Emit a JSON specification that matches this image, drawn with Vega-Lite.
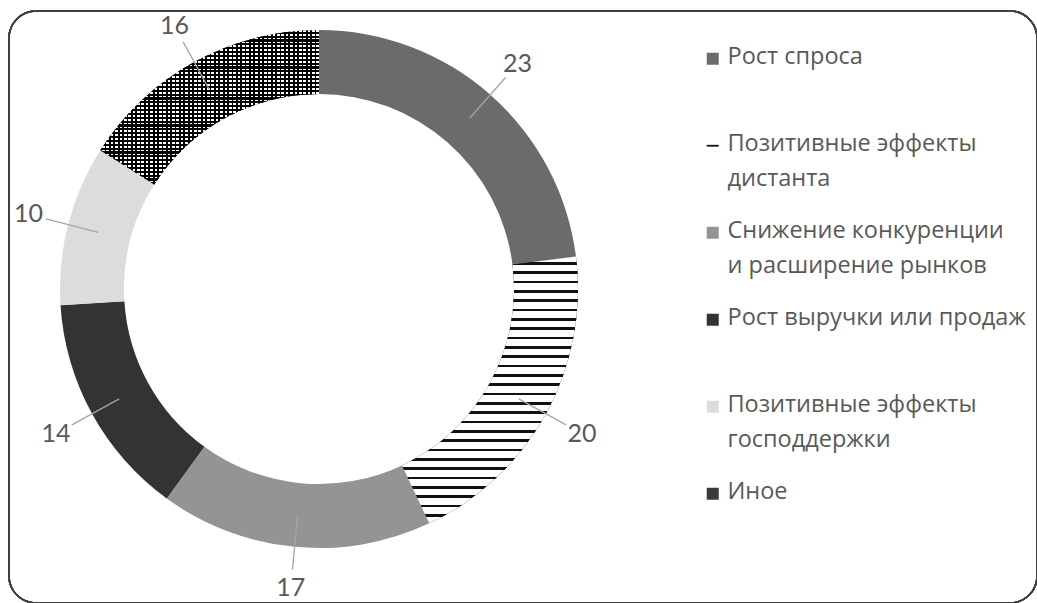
{
  "$schema": "https://vega.github.io/schema/vega-lite/v6.json",
  "autosize": {"type": "none"},
  "width": 1028,
  "height": 592,
  "padding": {"left": 9, "top": 11, "right": 0, "bottom": 0},
  "background": "#ffffff",
  "config": {
    "view": {"stroke": null},
    "font": "Lato",
    "legend": {
      "orient": "none",
      "legendX": 692,
      "legendY": 36,
      "padding": 0,
      "symbolType": "square",
      "symbolSize": 144,
      "symbolStrokeWidth": 0,
      "labelFont": "Open Sans",
      "labelFontSize": 23.5,
      "labelColor": "#595959",
      "labelLimit": 400,
      "labelOffset": 3,
      "labelBaseline": "top",
      "rowPadding": 27,
      "gridAlign": "all"
    }
  },
  "data": {
    "values": [
      {"idx": 1, "cat": "Рост спроса", "value": 23},
      {"idx": 2, "cat": "Позитивные эффекты дистанта", "value": 20},
      {"idx": 3, "cat": "Снижение конкуренции и расширение рынков", "value": 17},
      {"idx": 4, "cat": "Рост выручки или продаж", "value": 14},
      {"idx": 5, "cat": "Позитивные эффекты господдержки", "value": 10},
      {"idx": 6, "cat": "Иное", "value": 16}
    ]
  },
  "encoding": {
    "theta": {"field": "value", "type": "quantitative", "stack": true},
    "order": {"field": "idx", "type": "quantitative"}
  },
  "layer": [
    {
      "mark": {"type": "rect", "fill": "transparent", "stroke": "#404040", "strokeWidth": 1.5, "cornerRadius": 27},
      "encoding": {}
    },
    {
      "mark": {"type": "arc", "radius": 259, "radius2": 195, "x": 310, "y": 278},
      "encoding": {
        "color": {
          "field": "cat",
          "type": "nominal",
          "scale": {
            "domain": ["Рост спроса", "Позитивные эффекты дистанта", "Снижение конкуренции и расширение рынков", "Рост выручки или продаж", "Позитивные эффекты господдержки", "Иное"],
            "range": ["#6b6b6b", "#111111", "#949494", "#333333", "#dcdcdc", "#3a3a3a"]
          },
          "legend": {
            "title": null,
            "labelExpr": "datum.label === 'Позитивные эффекты дистанта' ? ['Позитивные эффекты', 'дистанта'] : datum.label === 'Снижение конкуренции и расширение рынков' ? ['Снижение конкуренции', ' и расширение рынков'] : datum.label === 'Позитивные эффекты господдержки' ? ['Позитивные эффекты', 'господдержки'] : datum.label",
            "encode": {
              "labels": {"update": {"lineHeight": {"value": 35.5}, "dy": {"value": -14}}},
              "symbols": {"update": {"shape": {"signal": "datum.value === 'Позитивные эффекты дистанта' ? 'M-1,-0.15H1V0.15H-1Z' : 'square'"}}}
            }
          }
        }
      }
    },
    {
      "mark": {
        "type": "arc", "radius": 259, "radius2": 195, "x": 310, "y": 278,
        "fill": {
          "gradient": "linear", "x1": 0, "y1": 0, "x2": 0, "y2": 1,
          "stops": [
            {"offset": 0, "color": "#ffffff"},
            {"offset": 0.02, "color": "#ffffff"}, {"offset": 0.02, "color": "#111111"}, {"offset": 0.03, "color": "#111111"}, {"offset": 0.03, "color": "#ffffff"},
            {"offset": 0.055, "color": "#ffffff"}, {"offset": 0.055, "color": "#111111"}, {"offset": 0.065, "color": "#111111"}, {"offset": 0.065, "color": "#ffffff"},
            {"offset": 0.09, "color": "#ffffff"}, {"offset": 0.09, "color": "#111111"}, {"offset": 0.1, "color": "#111111"}, {"offset": 0.1, "color": "#ffffff"},
            {"offset": 0.125, "color": "#ffffff"}, {"offset": 0.125, "color": "#111111"}, {"offset": 0.135, "color": "#111111"}, {"offset": 0.135, "color": "#ffffff"},
            {"offset": 0.16, "color": "#ffffff"}, {"offset": 0.16, "color": "#111111"}, {"offset": 0.17, "color": "#111111"}, {"offset": 0.17, "color": "#ffffff"},
            {"offset": 0.195, "color": "#ffffff"}, {"offset": 0.195, "color": "#111111"}, {"offset": 0.205, "color": "#111111"}, {"offset": 0.205, "color": "#ffffff"},
            {"offset": 0.23, "color": "#ffffff"}, {"offset": 0.23, "color": "#111111"}, {"offset": 0.24, "color": "#111111"}, {"offset": 0.24, "color": "#ffffff"},
            {"offset": 0.265, "color": "#ffffff"}, {"offset": 0.265, "color": "#111111"}, {"offset": 0.275, "color": "#111111"}, {"offset": 0.275, "color": "#ffffff"},
            {"offset": 0.3, "color": "#ffffff"}, {"offset": 0.3, "color": "#111111"}, {"offset": 0.31, "color": "#111111"}, {"offset": 0.31, "color": "#ffffff"},
            {"offset": 0.335, "color": "#ffffff"}, {"offset": 0.335, "color": "#111111"}, {"offset": 0.345, "color": "#111111"}, {"offset": 0.345, "color": "#ffffff"},
            {"offset": 0.37, "color": "#ffffff"}, {"offset": 0.37, "color": "#111111"}, {"offset": 0.38, "color": "#111111"}, {"offset": 0.38, "color": "#ffffff"},
            {"offset": 0.405, "color": "#ffffff"}, {"offset": 0.405, "color": "#111111"}, {"offset": 0.415, "color": "#111111"}, {"offset": 0.415, "color": "#ffffff"},
            {"offset": 0.44, "color": "#ffffff"}, {"offset": 0.44, "color": "#111111"}, {"offset": 0.45, "color": "#111111"}, {"offset": 0.45, "color": "#ffffff"},
            {"offset": 0.475, "color": "#ffffff"}, {"offset": 0.475, "color": "#111111"}, {"offset": 0.485, "color": "#111111"}, {"offset": 0.485, "color": "#ffffff"},
            {"offset": 0.51, "color": "#ffffff"}, {"offset": 0.51, "color": "#111111"}, {"offset": 0.52, "color": "#111111"}, {"offset": 0.52, "color": "#ffffff"},
            {"offset": 0.545, "color": "#ffffff"}, {"offset": 0.545, "color": "#111111"}, {"offset": 0.555, "color": "#111111"}, {"offset": 0.555, "color": "#ffffff"},
            {"offset": 0.58, "color": "#ffffff"}, {"offset": 0.58, "color": "#111111"}, {"offset": 0.59, "color": "#111111"}, {"offset": 0.59, "color": "#ffffff"},
            {"offset": 0.615, "color": "#ffffff"}, {"offset": 0.615, "color": "#111111"}, {"offset": 0.625, "color": "#111111"}, {"offset": 0.625, "color": "#ffffff"},
            {"offset": 0.65, "color": "#ffffff"}, {"offset": 0.65, "color": "#111111"}, {"offset": 0.66, "color": "#111111"}, {"offset": 0.66, "color": "#ffffff"},
            {"offset": 0.685, "color": "#ffffff"}, {"offset": 0.685, "color": "#111111"}, {"offset": 0.695, "color": "#111111"}, {"offset": 0.695, "color": "#ffffff"},
            {"offset": 0.72, "color": "#ffffff"}, {"offset": 0.72, "color": "#111111"}, {"offset": 0.73, "color": "#111111"}, {"offset": 0.73, "color": "#ffffff"},
            {"offset": 0.755, "color": "#ffffff"}, {"offset": 0.755, "color": "#111111"}, {"offset": 0.765, "color": "#111111"}, {"offset": 0.765, "color": "#ffffff"},
            {"offset": 0.79, "color": "#ffffff"}, {"offset": 0.79, "color": "#111111"}, {"offset": 0.8, "color": "#111111"}, {"offset": 0.8, "color": "#ffffff"},
            {"offset": 0.825, "color": "#ffffff"}, {"offset": 0.825, "color": "#111111"}, {"offset": 0.835, "color": "#111111"}, {"offset": 0.835, "color": "#ffffff"},
            {"offset": 0.86, "color": "#ffffff"}, {"offset": 0.86, "color": "#111111"}, {"offset": 0.87, "color": "#111111"}, {"offset": 0.87, "color": "#ffffff"},
            {"offset": 0.895, "color": "#ffffff"}, {"offset": 0.895, "color": "#111111"}, {"offset": 0.905, "color": "#111111"}, {"offset": 0.905, "color": "#ffffff"},
            {"offset": 0.93, "color": "#ffffff"}, {"offset": 0.93, "color": "#111111"}, {"offset": 0.94, "color": "#111111"}, {"offset": 0.94, "color": "#ffffff"},
            {"offset": 0.965, "color": "#ffffff"}, {"offset": 0.965, "color": "#111111"}, {"offset": 0.975, "color": "#111111"}, {"offset": 0.975, "color": "#ffffff"},
            {"offset": 1, "color": "#ffffff"}
          ]
        }
      },
      "encoding": {
        "opacity": {"condition": {"test": "datum.cat === 'Позитивные эффекты дистанта'", "value": 1}, "value": 0}
      }
    },
    {
      "mark": {
        "type": "arc", "radius": 259, "radius2": 195, "x": 310, "y": 278,
        "fill": {
          "gradient": "linear", "x1": 0, "y1": 0, "x2": 0, "y2": 1,
          "stops": [
            {"offset": 0, "color": "#ffffff"}, {"offset": 0.011, "color": "#ffffff"}, {"offset": 0.011, "color": "#000000"}, {"offset": 0.025, "color": "#000000"},
            {"offset": 0.025, "color": "#ffffff"}, {"offset": 0.036, "color": "#ffffff"}, {"offset": 0.036, "color": "#000000"}, {"offset": 0.05, "color": "#000000"},
            {"offset": 0.05, "color": "#ffffff"}, {"offset": 0.061, "color": "#ffffff"}, {"offset": 0.061, "color": "#000000"}, {"offset": 0.075, "color": "#000000"},
            {"offset": 0.075, "color": "#ffffff"}, {"offset": 0.086, "color": "#ffffff"}, {"offset": 0.086, "color": "#000000"}, {"offset": 0.1, "color": "#000000"},
            {"offset": 0.1, "color": "#ffffff"}, {"offset": 0.111, "color": "#ffffff"}, {"offset": 0.111, "color": "#000000"}, {"offset": 0.125, "color": "#000000"},
            {"offset": 0.125, "color": "#ffffff"}, {"offset": 0.136, "color": "#ffffff"}, {"offset": 0.136, "color": "#000000"}, {"offset": 0.15, "color": "#000000"},
            {"offset": 0.15, "color": "#ffffff"}, {"offset": 0.161, "color": "#ffffff"}, {"offset": 0.161, "color": "#000000"}, {"offset": 0.175, "color": "#000000"},
            {"offset": 0.175, "color": "#ffffff"}, {"offset": 0.186, "color": "#ffffff"}, {"offset": 0.186, "color": "#000000"}, {"offset": 0.2, "color": "#000000"},
            {"offset": 0.2, "color": "#ffffff"}, {"offset": 0.211, "color": "#ffffff"}, {"offset": 0.211, "color": "#000000"}, {"offset": 0.225, "color": "#000000"},
            {"offset": 0.225, "color": "#ffffff"}, {"offset": 0.236, "color": "#ffffff"}, {"offset": 0.236, "color": "#000000"}, {"offset": 0.25, "color": "#000000"},
            {"offset": 0.25, "color": "#ffffff"}, {"offset": 0.261, "color": "#ffffff"}, {"offset": 0.261, "color": "#000000"}, {"offset": 0.275, "color": "#000000"},
            {"offset": 0.275, "color": "#ffffff"}, {"offset": 0.286, "color": "#ffffff"}, {"offset": 0.286, "color": "#000000"}, {"offset": 0.3, "color": "#000000"},
            {"offset": 0.3, "color": "#ffffff"}, {"offset": 0.311, "color": "#ffffff"}, {"offset": 0.311, "color": "#000000"}, {"offset": 0.325, "color": "#000000"},
            {"offset": 0.325, "color": "#ffffff"}, {"offset": 0.336, "color": "#ffffff"}, {"offset": 0.336, "color": "#000000"}, {"offset": 0.35, "color": "#000000"},
            {"offset": 0.35, "color": "#ffffff"}, {"offset": 0.361, "color": "#ffffff"}, {"offset": 0.361, "color": "#000000"}, {"offset": 0.375, "color": "#000000"},
            {"offset": 0.375, "color": "#ffffff"}, {"offset": 0.386, "color": "#ffffff"}, {"offset": 0.386, "color": "#000000"}, {"offset": 0.4, "color": "#000000"},
            {"offset": 0.4, "color": "#ffffff"}, {"offset": 0.411, "color": "#ffffff"}, {"offset": 0.411, "color": "#000000"}, {"offset": 0.425, "color": "#000000"},
            {"offset": 0.425, "color": "#ffffff"}, {"offset": 0.436, "color": "#ffffff"}, {"offset": 0.436, "color": "#000000"}, {"offset": 0.45, "color": "#000000"},
            {"offset": 0.45, "color": "#ffffff"}, {"offset": 0.461, "color": "#ffffff"}, {"offset": 0.461, "color": "#000000"}, {"offset": 0.475, "color": "#000000"},
            {"offset": 0.475, "color": "#ffffff"}, {"offset": 0.486, "color": "#ffffff"}, {"offset": 0.486, "color": "#000000"}, {"offset": 0.5, "color": "#000000"},
            {"offset": 0.5, "color": "#ffffff"}, {"offset": 0.511, "color": "#ffffff"}, {"offset": 0.511, "color": "#000000"}, {"offset": 0.525, "color": "#000000"},
            {"offset": 0.525, "color": "#ffffff"}, {"offset": 0.536, "color": "#ffffff"}, {"offset": 0.536, "color": "#000000"}, {"offset": 0.55, "color": "#000000"},
            {"offset": 0.55, "color": "#ffffff"}, {"offset": 0.561, "color": "#ffffff"}, {"offset": 0.561, "color": "#000000"}, {"offset": 0.575, "color": "#000000"},
            {"offset": 0.575, "color": "#ffffff"}, {"offset": 0.586, "color": "#ffffff"}, {"offset": 0.586, "color": "#000000"}, {"offset": 0.6, "color": "#000000"},
            {"offset": 0.6, "color": "#ffffff"}, {"offset": 0.611, "color": "#ffffff"}, {"offset": 0.611, "color": "#000000"}, {"offset": 0.625, "color": "#000000"},
            {"offset": 0.625, "color": "#ffffff"}, {"offset": 0.636, "color": "#ffffff"}, {"offset": 0.636, "color": "#000000"}, {"offset": 0.65, "color": "#000000"},
            {"offset": 0.65, "color": "#ffffff"}, {"offset": 0.661, "color": "#ffffff"}, {"offset": 0.661, "color": "#000000"}, {"offset": 0.675, "color": "#000000"},
            {"offset": 0.675, "color": "#ffffff"}, {"offset": 0.686, "color": "#ffffff"}, {"offset": 0.686, "color": "#000000"}, {"offset": 0.7, "color": "#000000"},
            {"offset": 0.7, "color": "#ffffff"}, {"offset": 0.711, "color": "#ffffff"}, {"offset": 0.711, "color": "#000000"}, {"offset": 0.725, "color": "#000000"},
            {"offset": 0.725, "color": "#ffffff"}, {"offset": 0.736, "color": "#ffffff"}, {"offset": 0.736, "color": "#000000"}, {"offset": 0.75, "color": "#000000"},
            {"offset": 0.75, "color": "#ffffff"}, {"offset": 0.761, "color": "#ffffff"}, {"offset": 0.761, "color": "#000000"}, {"offset": 0.775, "color": "#000000"},
            {"offset": 0.775, "color": "#ffffff"}, {"offset": 0.786, "color": "#ffffff"}, {"offset": 0.786, "color": "#000000"}, {"offset": 0.8, "color": "#000000"},
            {"offset": 0.8, "color": "#ffffff"}, {"offset": 0.811, "color": "#ffffff"}, {"offset": 0.811, "color": "#000000"}, {"offset": 0.825, "color": "#000000"},
            {"offset": 0.825, "color": "#ffffff"}, {"offset": 0.836, "color": "#ffffff"}, {"offset": 0.836, "color": "#000000"}, {"offset": 0.85, "color": "#000000"},
            {"offset": 0.85, "color": "#ffffff"}, {"offset": 0.861, "color": "#ffffff"}, {"offset": 0.861, "color": "#000000"}, {"offset": 0.875, "color": "#000000"},
            {"offset": 0.875, "color": "#ffffff"}, {"offset": 0.886, "color": "#ffffff"}, {"offset": 0.886, "color": "#000000"}, {"offset": 0.9, "color": "#000000"},
            {"offset": 0.9, "color": "#ffffff"}, {"offset": 0.911, "color": "#ffffff"}, {"offset": 0.911, "color": "#000000"}, {"offset": 0.925, "color": "#000000"},
            {"offset": 0.925, "color": "#ffffff"}, {"offset": 0.936, "color": "#ffffff"}, {"offset": 0.936, "color": "#000000"}, {"offset": 0.95, "color": "#000000"},
            {"offset": 0.95, "color": "#ffffff"}, {"offset": 0.961, "color": "#ffffff"}, {"offset": 0.961, "color": "#000000"}, {"offset": 0.975, "color": "#000000"},
            {"offset": 0.975, "color": "#ffffff"}, {"offset": 0.986, "color": "#ffffff"}, {"offset": 0.986, "color": "#000000"}, {"offset": 1, "color": "#000000"}
          ]
        }
      },
      "encoding": {
        "opacity": {"condition": {"test": "datum.cat === 'Иное'", "value": 1}, "value": 0}
      }
    },
    {
      "mark": {
        "type": "arc", "radius": 259, "radius2": 195, "x": 310, "y": 278,
        "fill": {
          "gradient": "linear", "x1": 0, "y1": 0, "x2": 1, "y2": 0,
          "stops": [
            {"offset": 0, "color": "#000000"}, {"offset": 0.008, "color": "#000000"}, {"offset": 0.008, "color": "transparent"}, {"offset": 0.02, "color": "transparent"},
            {"offset": 0.02, "color": "#000000"}, {"offset": 0.028, "color": "#000000"}, {"offset": 0.028, "color": "transparent"}, {"offset": 0.04, "color": "transparent"},
            {"offset": 0.04, "color": "#000000"}, {"offset": 0.048, "color": "#000000"}, {"offset": 0.048, "color": "transparent"}, {"offset": 0.06, "color": "transparent"},
            {"offset": 0.06, "color": "#000000"}, {"offset": 0.068, "color": "#000000"}, {"offset": 0.068, "color": "transparent"}, {"offset": 0.08, "color": "transparent"},
            {"offset": 0.08, "color": "#000000"}, {"offset": 0.088, "color": "#000000"}, {"offset": 0.088, "color": "transparent"}, {"offset": 0.1, "color": "transparent"},
            {"offset": 0.1, "color": "#000000"}, {"offset": 0.108, "color": "#000000"}, {"offset": 0.108, "color": "transparent"}, {"offset": 0.12, "color": "transparent"},
            {"offset": 0.12, "color": "#000000"}, {"offset": 0.128, "color": "#000000"}, {"offset": 0.128, "color": "transparent"}, {"offset": 0.14, "color": "transparent"},
            {"offset": 0.14, "color": "#000000"}, {"offset": 0.148, "color": "#000000"}, {"offset": 0.148, "color": "transparent"}, {"offset": 0.16, "color": "transparent"},
            {"offset": 0.16, "color": "#000000"}, {"offset": 0.168, "color": "#000000"}, {"offset": 0.168, "color": "transparent"}, {"offset": 0.18, "color": "transparent"},
            {"offset": 0.18, "color": "#000000"}, {"offset": 0.188, "color": "#000000"}, {"offset": 0.188, "color": "transparent"}, {"offset": 0.2, "color": "transparent"},
            {"offset": 0.2, "color": "#000000"}, {"offset": 0.208, "color": "#000000"}, {"offset": 0.208, "color": "transparent"}, {"offset": 0.22, "color": "transparent"},
            {"offset": 0.22, "color": "#000000"}, {"offset": 0.228, "color": "#000000"}, {"offset": 0.228, "color": "transparent"}, {"offset": 0.24, "color": "transparent"},
            {"offset": 0.24, "color": "#000000"}, {"offset": 0.248, "color": "#000000"}, {"offset": 0.248, "color": "transparent"}, {"offset": 0.26, "color": "transparent"},
            {"offset": 0.26, "color": "#000000"}, {"offset": 0.268, "color": "#000000"}, {"offset": 0.268, "color": "transparent"}, {"offset": 0.28, "color": "transparent"},
            {"offset": 0.28, "color": "#000000"}, {"offset": 0.288, "color": "#000000"}, {"offset": 0.288, "color": "transparent"}, {"offset": 0.3, "color": "transparent"},
            {"offset": 0.3, "color": "#000000"}, {"offset": 0.308, "color": "#000000"}, {"offset": 0.308, "color": "transparent"}, {"offset": 0.32, "color": "transparent"},
            {"offset": 0.32, "color": "#000000"}, {"offset": 0.328, "color": "#000000"}, {"offset": 0.328, "color": "transparent"}, {"offset": 0.34, "color": "transparent"},
            {"offset": 0.34, "color": "#000000"}, {"offset": 0.348, "color": "#000000"}, {"offset": 0.348, "color": "transparent"}, {"offset": 0.36, "color": "transparent"},
            {"offset": 0.36, "color": "#000000"}, {"offset": 0.368, "color": "#000000"}, {"offset": 0.368, "color": "transparent"}, {"offset": 0.38, "color": "transparent"},
            {"offset": 0.38, "color": "#000000"}, {"offset": 0.388, "color": "#000000"}, {"offset": 0.388, "color": "transparent"}, {"offset": 0.4, "color": "transparent"},
            {"offset": 0.4, "color": "#000000"}, {"offset": 0.408, "color": "#000000"}, {"offset": 0.408, "color": "transparent"}, {"offset": 0.42, "color": "transparent"},
            {"offset": 0.42, "color": "#000000"}, {"offset": 0.428, "color": "#000000"}, {"offset": 0.428, "color": "transparent"}, {"offset": 0.44, "color": "transparent"},
            {"offset": 0.44, "color": "#000000"}, {"offset": 0.448, "color": "#000000"}, {"offset": 0.448, "color": "transparent"}, {"offset": 0.46, "color": "transparent"},
            {"offset": 0.46, "color": "#000000"}, {"offset": 0.468, "color": "#000000"}, {"offset": 0.468, "color": "transparent"}, {"offset": 0.48, "color": "transparent"},
            {"offset": 0.48, "color": "#000000"}, {"offset": 0.488, "color": "#000000"}, {"offset": 0.488, "color": "transparent"}, {"offset": 0.5, "color": "transparent"},
            {"offset": 0.5, "color": "#000000"}, {"offset": 0.508, "color": "#000000"}, {"offset": 0.508, "color": "transparent"}, {"offset": 0.52, "color": "transparent"},
            {"offset": 0.52, "color": "#000000"}, {"offset": 0.528, "color": "#000000"}, {"offset": 0.528, "color": "transparent"}, {"offset": 0.54, "color": "transparent"},
            {"offset": 0.54, "color": "#000000"}, {"offset": 0.548, "color": "#000000"}, {"offset": 0.548, "color": "transparent"}, {"offset": 0.56, "color": "transparent"},
            {"offset": 0.56, "color": "#000000"}, {"offset": 0.568, "color": "#000000"}, {"offset": 0.568, "color": "transparent"}, {"offset": 0.58, "color": "transparent"},
            {"offset": 0.58, "color": "#000000"}, {"offset": 0.588, "color": "#000000"}, {"offset": 0.588, "color": "transparent"}, {"offset": 0.6, "color": "transparent"},
            {"offset": 0.6, "color": "#000000"}, {"offset": 0.608, "color": "#000000"}, {"offset": 0.608, "color": "transparent"}, {"offset": 0.62, "color": "transparent"},
            {"offset": 0.62, "color": "#000000"}, {"offset": 0.628, "color": "#000000"}, {"offset": 0.628, "color": "transparent"}, {"offset": 0.64, "color": "transparent"},
            {"offset": 0.64, "color": "#000000"}, {"offset": 0.648, "color": "#000000"}, {"offset": 0.648, "color": "transparent"}, {"offset": 0.66, "color": "transparent"},
            {"offset": 0.66, "color": "#000000"}, {"offset": 0.668, "color": "#000000"}, {"offset": 0.668, "color": "transparent"}, {"offset": 0.68, "color": "transparent"},
            {"offset": 0.68, "color": "#000000"}, {"offset": 0.688, "color": "#000000"}, {"offset": 0.688, "color": "transparent"}, {"offset": 0.7, "color": "transparent"},
            {"offset": 0.7, "color": "#000000"}, {"offset": 0.708, "color": "#000000"}, {"offset": 0.708, "color": "transparent"}, {"offset": 0.72, "color": "transparent"},
            {"offset": 0.72, "color": "#000000"}, {"offset": 0.728, "color": "#000000"}, {"offset": 0.728, "color": "transparent"}, {"offset": 0.74, "color": "transparent"},
            {"offset": 0.74, "color": "#000000"}, {"offset": 0.748, "color": "#000000"}, {"offset": 0.748, "color": "transparent"}, {"offset": 0.76, "color": "transparent"},
            {"offset": 0.76, "color": "#000000"}, {"offset": 0.768, "color": "#000000"}, {"offset": 0.768, "color": "transparent"}, {"offset": 0.78, "color": "transparent"},
            {"offset": 0.78, "color": "#000000"}, {"offset": 0.788, "color": "#000000"}, {"offset": 0.788, "color": "transparent"}, {"offset": 0.8, "color": "transparent"},
            {"offset": 0.8, "color": "#000000"}, {"offset": 0.808, "color": "#000000"}, {"offset": 0.808, "color": "transparent"}, {"offset": 0.82, "color": "transparent"},
            {"offset": 0.82, "color": "#000000"}, {"offset": 0.828, "color": "#000000"}, {"offset": 0.828, "color": "transparent"}, {"offset": 0.84, "color": "transparent"},
            {"offset": 0.84, "color": "#000000"}, {"offset": 0.848, "color": "#000000"}, {"offset": 0.848, "color": "transparent"}, {"offset": 0.86, "color": "transparent"},
            {"offset": 0.86, "color": "#000000"}, {"offset": 0.868, "color": "#000000"}, {"offset": 0.868, "color": "transparent"}, {"offset": 0.88, "color": "transparent"},
            {"offset": 0.88, "color": "#000000"}, {"offset": 0.888, "color": "#000000"}, {"offset": 0.888, "color": "transparent"}, {"offset": 0.9, "color": "transparent"},
            {"offset": 0.9, "color": "#000000"}, {"offset": 0.908, "color": "#000000"}, {"offset": 0.908, "color": "transparent"}, {"offset": 0.92, "color": "transparent"},
            {"offset": 0.92, "color": "#000000"}, {"offset": 0.928, "color": "#000000"}, {"offset": 0.928, "color": "transparent"}, {"offset": 0.94, "color": "transparent"},
            {"offset": 0.94, "color": "#000000"}, {"offset": 0.948, "color": "#000000"}, {"offset": 0.948, "color": "transparent"}, {"offset": 0.96, "color": "transparent"},
            {"offset": 0.96, "color": "#000000"}, {"offset": 0.968, "color": "#000000"}, {"offset": 0.968, "color": "transparent"}, {"offset": 0.98, "color": "transparent"},
            {"offset": 0.98, "color": "#000000"}, {"offset": 0.988, "color": "#000000"}, {"offset": 0.988, "color": "transparent"}, {"offset": 1, "color": "transparent"}
          ]
        }
      },
      "encoding": {
        "opacity": {"condition": {"test": "datum.cat === 'Иное'", "value": 1}, "value": 0}
      }
    },
    {
      "mark": {"type": "arc", "radius": 282, "radius2": 228, "padAngle": 3.1, "x": 310, "y": 278, "filled": false, "stroke": "#a6a6a6", "strokeWidth": 1.3}
    },
    {
      "mark": {"type": "text", "radius": 300, "x": 310, "y": 278, "font": "Lato", "fontSize": 25, "color": "#595959"},
      "encoding": {
        "text": {"field": "value", "type": "quantitative"}
      }
    }
  ]
}
